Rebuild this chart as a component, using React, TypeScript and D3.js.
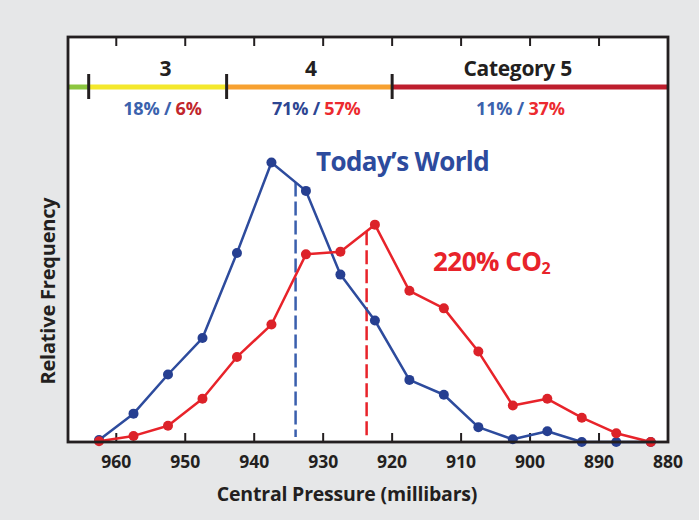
import React from "react";
import * as d3 from "d3";

const pressures = [962.5, 957.5, 952.5, 947.5, 942.5, 937.5, 932.5, 927.5, 922.5, 917.5, 912.5, 907.5, 902.5, 897.5, 892.5, 887.5, 882.5];
const todayFreq = [0.15, 2.1, 5.0, 7.7, 14.0, 20.7, 18.6, 12.4, 9.0, 4.6, 3.5, 1.1, 0.2, 0.8, 0, 0, 0];
const co2Freq = [0.05, 0.45, 1.2, 3.2, 6.3, 8.7, 13.9, 14.1, 16.1, 11.2, 9.9, 6.7, 2.7, 3.2, 1.8, 0.65, 0];
const tickValues = [960, 950, 940, 930, 920, 910, 900, 890, 880];
const todayMean = 934.0;
const co2Mean = 923.7;
const categoryBounds = [967, 964, 944, 920, 880];
const categoryColors = ["#8cc63f", "#f4e82c", "#f7a130", "#be1e2d"];
const categoryMarkers = [964, 944, 920];
const categoryLabels = [
  { p: 952.9, text: "3" },
  { p: 931.8, text: "4" },
  { p: 901.8, text: "Category 5" },
];
const categoryShares = [
  { p: 953.3, today: "18%", co2: "6%", tc: "#3b62ad", cc: "#c1272d" },
  { p: 931, today: "71%", co2: "57%", tc: "#2d4592", cc: "#ec2a2f" },
  { p: 901.4, today: "11%", co2: "37%", tc: "#3b62ad", cc: "#ec2a2f" },
];

const W = 699, H = 520;
const left = 68, right = 668, top = 37, bottom = 442;
const BLUE = "#2d4b9d", RED = "#e8232a";
const FONT = "'Open Sans', sans-serif";

export default function App() {
  const x = d3.scaleLinear().domain([967, 880]).range([left, right]);
  const y = d3.scaleLinear().domain([0, 30]).range([bottom, top]);
  const line = d3.line<number>().x((_, i) => x(pressures[i])).y((d) => y(d));
  const interp = (arr: number[], p: number) => {
    const i = pressures.findIndex((v, k) => k < pressures.length - 1 && p <= v && p >= pressures[k + 1]);
    const t = (pressures[i] - p) / (pressures[i] - pressures[i + 1]);
    return arr[i] + t * (arr[i + 1] - arr[i]);
  };
  const barY = 87;
  return (
    <svg width={W} height={H} style={{ position: "absolute", left: 0, top: 0 }} fontFamily={FONT}>
      <rect x={0} y={0} width={W} height={H} fill="#e6e7e8" />
      <rect x={left} y={top} width={right - left} height={bottom - top} fill="#fff" />
      {categoryColors.map((c, i) => (
        <line key={i} x1={x(categoryBounds[i])} x2={x(categoryBounds[i + 1])} y1={barY} y2={barY} stroke={c} strokeWidth={5} />
      ))}
      {categoryMarkers.map((p) => (
        <line key={p} x1={x(p)} x2={x(p)} y1={74} y2={99} stroke="#231f20" strokeWidth={3} />
      ))}
      {categoryLabels.map((c) => (
        <text key={c.text} x={x(c.p)} y={76} textAnchor="middle" fontWeight={700} fontSize={21} fill="#231f20" letterSpacing={-0.3}>{c.text}</text>
      ))}
      {categoryShares.map((c) => (
        <text key={c.today} x={x(c.p)} y={115} textAnchor="middle" fontWeight={700} fontSize={18} letterSpacing={-0.2}>
          <tspan fill={c.tc}>{c.today} / </tspan>
          <tspan fill={c.cc}>{c.co2}</tspan>
        </text>
      ))}
      {tickValues.filter((t) => t > 880).map((t) => (
        <g key={t}>
          <line x1={x(t)} x2={x(t)} y1={top} y2={top + 9} stroke="#231f20" strokeWidth={2} />
          <line x1={x(t)} x2={x(t)} y1={bottom} y2={bottom - 9} stroke="#231f20" strokeWidth={2} />
        </g>
      ))}
      {tickValues.map((t) => (
        <text key={t} x={x(t)} y={468} textAnchor="middle" fontWeight={700} fontSize={17.5} fill="#231f20">{t}</text>
      ))}
      <line x1={x(todayMean)} x2={x(todayMean)} y1={y(interp(todayFreq, todayMean))} y2={bottom - 5} stroke="#3a5fad" strokeWidth={2.5} strokeDasharray="14,5" />
      <line x1={x(co2Mean)} x2={x(co2Mean)} y1={y(interp(co2Freq, co2Mean))} y2={bottom - 5} stroke={RED} strokeWidth={2.5} strokeDasharray="14,5" />
      <path d={line(todayFreq) || ""} fill="none" stroke={BLUE} strokeWidth={2.5} strokeLinejoin="round" />
      {todayFreq.map((v, i) => (
        <circle key={"b" + i} cx={x(pressures[i])} cy={y(v)} r={5} fill="#263f91" />
      ))}
      <path d={line(co2Freq) || ""} fill="none" stroke={RED} strokeWidth={2.5} strokeLinejoin="round" />
      {co2Freq.map((v, i) => (
        <circle key={"r" + i} cx={x(pressures[i])} cy={y(v)} r={5} fill="#dc2229" />
      ))}
      <rect x={left} y={top} width={right - left} height={bottom - top} fill="none" stroke="#231f20" strokeWidth={2.8} />
      <text x={316} y={171} fontWeight={700} fontSize={26} fill="#2d4b9d" letterSpacing={-0.6}>Today’s World</text>
      <text x={433} y={271} fontWeight={700} fontSize={26} fill={RED} letterSpacing={-0.5}>
        220% CO<tspan fontSize={16} dy={3}>2</tspan>
      </text>
      <text transform={`translate(55,291) rotate(-90)`} textAnchor="middle" fontWeight={700} fontSize={20} fill="#231f20" letterSpacing={-0.2}>Relative Frequency</text>
      <text x={347} y={501} textAnchor="middle" fontWeight={700} fontSize={19.5} fill="#231f20" letterSpacing={-0.2}>Central Pressure (millibars)</text>
    </svg>
  );
}
